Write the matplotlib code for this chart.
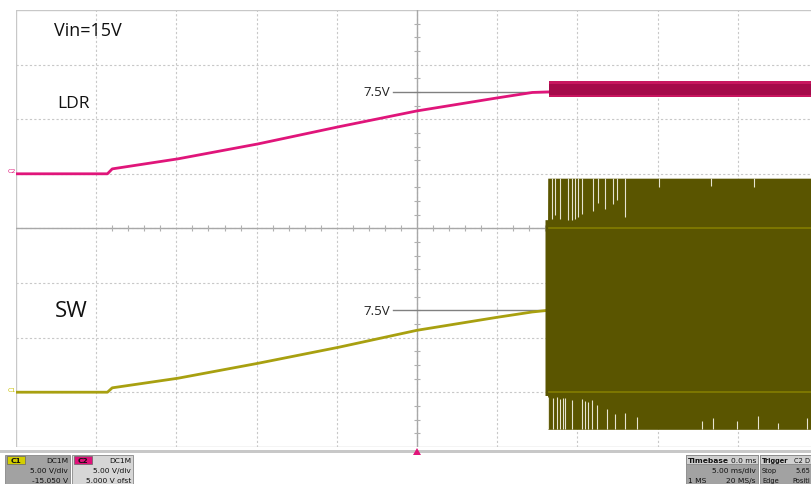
#!/usr/bin/env python3
# -*- coding: utf-8 -*-
"""Scope capture: LDR and SW soft-start ramp, Vin=15V."""
import matplotlib
matplotlib.use("Agg")
import matplotlib.pyplot as plt
from matplotlib.patches import Rectangle, Polygon

# --- data (time in ms, volts) ---
ramp_t = [-25.0, -19.3, -19.0, -14.9, -9.9, -4.9, 0.0, 5.0, 7.2, 8.2]
ldr_v = [0.0, 0.0, 0.45, 1.37, 2.74, 4.30, 5.76, 6.95, 7.45, 7.5]
sw_v = [0.0, 0.0, 0.40, 1.28, 2.65, 4.11, 5.67, 6.86, 7.35, 7.5]

# LDR after soft start: noisy band round 7.5 V
ldr_band_t = [8.2, 24.8]
ldr_band_lo, ldr_band_hi = 7.0, 8.5
ldr_core_lo, ldr_core_hi = 7.25, 8.2

# SW switching burst envelope (V)
sw_burst_t = [7.98, 8.14, 8.15, 24.8]
sw_burst_top = [15.8, 15.8, 19.6, 19.6]
sw_burst_bot = [-0.3, -0.3, -3.4, -3.4]
sw_high = 15.0

# light gaps in the envelope: top gaps (time, tip V), bottom gaps (time, tip V)
top_gap_t = [8.40, 8.60, 8.92, 9.41, 9.64, 9.85, 10.04, 10.27, 10.97,
             11.28, 11.72, 12.22, 12.46, 12.96, 15.1, 18.3, 21.0]
top_gap_v = [15.9, 16.2, 15.9, 15.8, 15.8, 15.9, 16.0, 16.3, 16.6,
             17.3, 16.8, 17.2, 17.6, 16.0, 18.8, 18.9, 18.8]
bot_gap_t = [8.18, 8.50, 8.71, 8.92, 9.12, 9.23, 9.64, 10.27, 10.47,
             10.68, 10.89, 11.20, 11.82, 12.34, 12.96, 13.69, 17.74,
             18.47, 19.93, 21.27, 22.52, 24.29]
bot_gap_v = [-0.4, -0.5, -0.4, -0.6, -0.5, -0.5, -0.7, -0.6, -0.8,
             -0.9, -0.7, -1.2, -1.5, -2.0, -1.9, -2.3, -2.6,
             -2.4, -2.6, -2.2, -2.8, -2.4]

# channel settings: V/div and screen position of 0 V (div)
volts_per_div = 5.0
ldr_zero = 1.0
sw_zero = -3.0

LDR_COL = "#e0157a"
LDR_BAND = "#c8165f"
LDR_CORE = "#a50a4a"
SW_COL = "#a8a010"
SW_FILL = "#5a5500"
GAP_COL = "#e6e4d2"


def to_div(v, zero):
    return [zero + x / volts_per_div for x in v]


W, H = 812, 485
fig = plt.figure(figsize=(W / 100, H / 100), dpi=100)
fig.patch.set_facecolor("white")

# plot area in pixels: left 16, top 11, 80.2 px/div horizontally, 54.6 px/div vertically
left, top, dx, dy = 16, 11, 80.2, 54.6
ax = fig.add_axes([left / W, (H - top - 8 * dy) / H, 10 * dx / W, 8 * dy / H])
ax.set_xlim(-25, 25)
ax.set_ylim(-4, 4)
ax.axis("off")

# grid
for i in range(-4, 6):
    ax.axvline(i * 5, color="#c8c8c8", lw=0.8, ls=(0, (2, 2)), zorder=0)
for j in range(-3, 4):
    ax.axhline(j, color="#c8c8c8", lw=0.8, ls=(0, (2, 2)), zorder=0)
ax.axhline(4, color="#c8c8c8", lw=1.0, zorder=0)
ax.axhline(-4, color="#c8c8c8", lw=1.0, zorder=0)
ax.axvline(-25, color="#c8c8c8", lw=1.0, zorder=0)
ax.axvline(0, color="#a8a8a8", lw=1.0, zorder=0)
ax.axhline(0, color="#a8a8a8", lw=1.0, zorder=0)
for k in range(-20, 21):
    if k % 5:
        ax.plot([k], [0], marker="|", ms=4, color="#b0b0b0", mew=0.8, zorder=0)
for k in range(-16, 17):
    if k % 4:
        ax.plot([0], [k / 4], marker="_", ms=4, color="#b0b0b0", mew=0.8, zorder=0)

# LDR trace
ax.plot(ramp_t, to_div(ldr_v, ldr_zero), color=LDR_COL, lw=2.0, zorder=3)
ax.fill_between(ldr_band_t, to_div([ldr_band_lo] * 2, ldr_zero),
                to_div([ldr_band_hi] * 2, ldr_zero), color=LDR_BAND, lw=0, zorder=3)
ax.fill_between(ldr_band_t, to_div([ldr_core_lo] * 2, ldr_zero),
                to_div([ldr_core_hi] * 2, ldr_zero), color=LDR_CORE, lw=0, zorder=3)

# SW trace
ax.plot(ramp_t, to_div(sw_v, sw_zero), color=SW_COL, lw=2.0, zorder=3)
ax.fill_between(sw_burst_t, to_div(sw_burst_bot, sw_zero), to_div(sw_burst_top, sw_zero),
                color=SW_FILL, lw=0, zorder=3)
top_edge = to_div([sw_burst_top[-1]], sw_zero)[0]
bot_edge = to_div([sw_burst_bot[-1]], sw_zero)[0]
ax.vlines(top_gap_t, to_div(top_gap_v, sw_zero), top_edge, color=GAP_COL, lw=0.8, zorder=4)
ax.vlines(bot_gap_t, bot_edge, to_div(bot_gap_v, sw_zero), color=GAP_COL, lw=0.8, zorder=4)
ax.plot([8.2, 24.8], to_div([sw_high] * 2, sw_zero), color="#847d00", lw=1.2, zorder=4)
ax.plot([8.2, 24.8], to_div([0, 0], sw_zero), color="#847d00", lw=1.2, zorder=4)

# 7.5V markers
for zero in (ldr_zero, sw_zero):
    yv = to_div([7.5], zero)[0]
    ax.plot([-1.5, 8.2], [yv, yv], color="#808080", lw=1.0, zorder=2)
    ax.text(-1.7, yv, "7.5V", ha="right", va="center", fontsize=9.5,
            family=["Open Sans", "DejaVu Sans"], color="#222222")

# labels
lab = dict(family=["Open Sans", "DejaVu Sans"], color="#111111", va="center", ha="left")
ax.text(-22.6, 3.63, "Vin=15V", fontsize=13, **lab)
ax.text(-22.4, 2.3, "LDR", fontsize=12.5, **lab)
ax.text(-22.6, -1.5, "SW", fontsize=16, **lab)

# overlay in pixel coordinates for the status bar and markers
ov = fig.add_axes([0, 0, 1, 1], facecolor="none")
ov.set_xlim(0, W)
ov.set_ylim(H, 0)
ov.axis("off")
ov.text(8, 172, "C2", fontsize=4.5, color=LDR_COL, ha="left", va="center")
ov.text(8, 391, "C1", fontsize=4.5, color="#c8c000", ha="left", va="center")
ov.add_patch(Rectangle((0, 451), W, 3, color="#c8c8c8", lw=0))
ov.add_patch(Polygon([[413, 456], [421, 456], [417, 449]], closed=True, color=LDR_COL, lw=0))

small = dict(fontsize=5.4, family="DejaVu Sans", color="#111111")


def chan_box(x0, x1, bg, tag, tag_col, lines):
    ov.add_patch(Rectangle((x0, 456), x1 - x0, 30, facecolor=bg, edgecolor="#888888", lw=0.6))
    ov.add_patch(Rectangle((x0 + 2, 457), 18, 8, facecolor=tag_col, edgecolor="#666666", lw=0.5))
    ov.text(x0 + 11, 461, tag, ha="center", va="center", weight="bold", **small)
    for yy, s in zip((461, 471, 481), lines):
        ov.text(x1 - 2, yy, s, ha="right", va="center", **small)


chan_box(5, 70, "#a2a2a2", "C1", "#d4ce00", ["DC1M", "5.00 V/div", "-15.050 V"])
chan_box(72, 133, "#d6d6d6", "C2", "#e0107a", ["DC1M", "5.00 V/div", "5.000 V ofst"])


def info_box(x0, x1, rows, right_pad=2, fs=5.4):
    st = dict(small, fontsize=fs)
    ov.add_patch(Rectangle((x0, 456), x1 - x0, 30, facecolor="#a2a2a2", edgecolor="#888888", lw=0.6))
    ov.add_patch(Rectangle((x0, 456), x1 - x0, 9, facecolor="#d0d0d0", edgecolor="#888888", lw=0.6))
    for i, (yy, (a, b)) in enumerate(zip((461, 471, 481), rows)):
        ov.text(x0 + 2, yy, a, ha="left", va="center", weight="bold" if i == 0 else "normal", **st)
        ov.text(min(x1, W) - right_pad, yy, b, ha="right", va="center", **st)


info_box(686, 758, [("Timebase", "0.0 ms"), ("", "5.00 ms/div"), ("1 MS", "20 MS/s")])
info_box(760, 830, [("Trigger", "C2 D"), ("Stop", "5.65"), ("Edge", "Positi")],
         right_pad=2, fs=4.8)

fig.savefig("out.png", dpi=100)
